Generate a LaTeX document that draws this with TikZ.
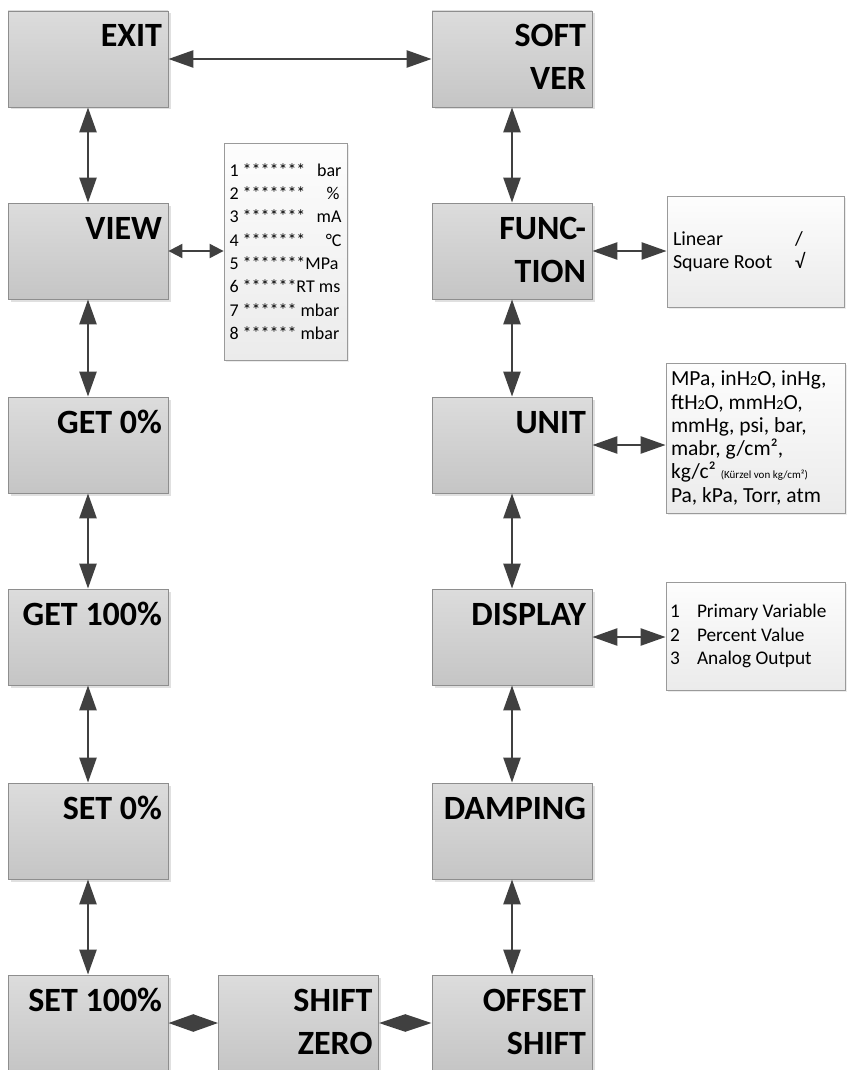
\documentclass[tikz,border=0pt]{standalone}
\usepackage{fontspec}
\setmainfont{Carlito}
\usepackage{tikz}
\usetikzlibrary{arrows.meta, shadows, positioning}
\definecolor{boxTop}{HTML}{DCDCDC}
\definecolor{boxBot}{HTML}{C5C5C5}
\definecolor{boxLine}{HTML}{8E8E8E}
\definecolor{infoTop}{HTML}{FDFDFD}
\definecolor{infoBot}{HTML}{EBEBEB}
\definecolor{infoLine}{HTML}{9A9A9A}
\definecolor{arrowC}{HTML}{404040}

\newcommand{\menulabel}[1]{\parbox[c][96pt][t]{148pt}{\raggedleft\fontsize{34}{43}\selectfont\bfseries\rule{0pt}{36pt}#1}}
\newcommand{\hsub}{{\fontsize{14}{14}\selectfont 2}}
\newcommand{\starline}[1]{\makebox[112pt][l]{#1}}

\tikzset{
    menubox/.style={draw=boxLine, line width=0.8pt, top color=boxTop, bottom color=boxBot,
        minimum width=160pt, minimum height=96pt, inner sep=0pt,
        drop shadow={shadow xshift=2.5pt, shadow yshift=-2.5pt, fill=black!20, opacity=0.6}},
    infobox/.style={draw=infoLine, line width=0.8pt, top color=infoTop, bottom color=infoBot,
        inner sep=6pt, align=flush left, font=\fontsize{20}{23.3}\selectfont,
        drop shadow={shadow xshift=2pt, shadow yshift=-2pt, fill=black!12, opacity=0.6}},
    biarrow/.style={{Triangle[length=25pt,width=17pt]}-{Triangle[length=25pt,width=17pt]},
        line width=2.5pt, draw=arrowC},
    diamondarrow/.style={{Triangle[length=#1,width=17pt]}-{Triangle[length=#1,width=17pt]},
        line width=2.5pt, draw=arrowC},
    smallbiarrow/.style={{Triangle[length=14pt,width=14pt]}-{Triangle[length=14pt,width=14pt]},
        line width=2pt, draw=arrowC}
}

\begin{document}
\begin{tikzpicture}[x=1pt, y=-1pt]
    \useasboundingbox (0,0) rectangle (846,1070);

    \node[menubox] (exit) at (88,59) {\menulabel{EXIT}};
    \node[menubox] (view) at (88,251) {\menulabel{VIEW}};
    \node[menubox] (get0) at (88,445) {\menulabel{GET 0\%}};
    \node[menubox] (get100) at (88,637) {\menulabel{GET 100\%}};
    \node[menubox] (set0) at (88,831) {\menulabel{SET 0\%}};
    \node[menubox] (set100) at (88,1023) {\menulabel{SET 100\%}};

    \node[menubox] (softver) at (512,59) {\menulabel{SOFT\\VER}};
    \node[menubox] (func) at (512,251) {\menulabel{FUNC-\\TION}};
    \node[menubox] (unit) at (512,445) {\menulabel{UNIT}};
    \node[menubox] (disp) at (512,637) {\menulabel{DISPLAY}};
    \node[menubox] (damp) at (512,831) {\menulabel{DAMPING}};
    \node[menubox] (offset) at (512,1023) {\menulabel{OFFSET\\SHIFT}};
    \node[menubox] (shiftzero) at (298.5,1023) {\menulabel{SHIFT\\ZERO}};

    \node[infobox, font=\fontsize{18}{23.3}\selectfont, inner sep=5pt, minimum width=123pt,
        minimum height=217pt] (viewinfo) at (285.5,251.5) {%
        \starline{1 ******* \hfill bar}\\
        \starline{2 ******* \hfill \%\hspace{2pt}}\\
        \starline{3 ******* \hfill mA}\\
        \starline{4 ******* \hfill °C}\\
        \starline{5 *******MPa}\\
        \starline{6 ******RT ms}\\
        \starline{7 ****** mbar}\\
        \starline{8 ****** mbar}};
    \node[infobox, text width=165pt, minimum height=111pt] (funcinfo) at (755.5,251.5) {%
        \makebox[122pt][l]{Linear}/\\
        \makebox[122pt][l]{Square Root}√};
    \node[infobox, font=\fontsize{21.5}{23.3}\selectfont, inner sep=5pt, text width=169pt,
        minimum height=150pt] (unitinfo) at (755.5,438) {%
        MPa, inH\hsub O, inHg,\\
        ftH\hsub O, mmH\hsub O,\\
        mmHg, psi, bar,\\
        mabr, g/cm²,\\
        kg/c² {\fontsize{11}{11}\selectfont (Kürzel von kg/cm²)}\\
        Pa, kPa, Torr, atm};
    \node[infobox, font=\fontsize{19.3}{23.3}\selectfont, inner sep=4pt, text width=171pt,
        minimum height=108pt] (dispinfo) at (755.5,636) {%
        \makebox[27pt][l]{1}Primary Variable\\
        \makebox[27pt][l]{2}Percent Value\\
        \makebox[27pt][l]{3}Analog Output};

    \draw[biarrow] (exit) -- (softver);
    \draw[biarrow] (exit) -- (view);
    \draw[biarrow] (view) -- (get0);
    \draw[biarrow] (get0) -- (get100);
    \draw[biarrow] (get100) -- (set0);
    \draw[biarrow] (set0) -- (set100);
    \draw[biarrow] (softver) -- (func);
    \draw[biarrow] (func) -- (unit);
    \draw[biarrow] (unit) -- (disp);
    \draw[biarrow] (disp) -- (damp);
    \draw[biarrow] (damp) -- (offset);
    \draw[diamondarrow=25pt] (set100) -- (shiftzero);
    \draw[diamondarrow=26.5pt] (shiftzero) -- (offset);

    \draw[smallbiarrow] (view) -- (view -| viewinfo.west);
    \draw[biarrow] (func) -- (func -| funcinfo.west);
    \draw[biarrow] (unit) -- (unit -| unitinfo.west);
    \draw[biarrow] (disp) -- (disp -| dispinfo.west);
\end{tikzpicture}
\end{document}
